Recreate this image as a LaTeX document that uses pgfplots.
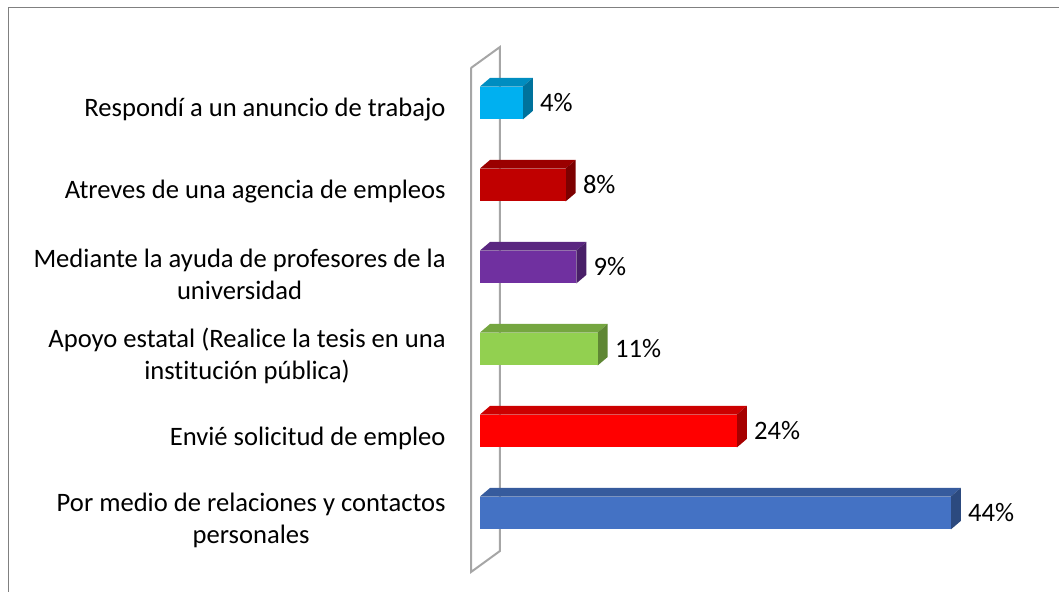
\documentclass[border=0pt]{standalone}
\usepackage{fontspec}
\setmainfont{Carlito}[Ligatures=NoCommon]
\usepackage{pgfplots}
\pgfplotsset{compat=1.18}

\definecolor{cCyan}{HTML}{00B0F0}
\definecolor{cDark}{HTML}{C00000}
\definecolor{cPurple}{HTML}{7030A0}
\definecolor{cGreen}{HTML}{92D050}
\definecolor{cRed}{HTML}{FF0000}
\definecolor{cBlue}{HTML}{4472C4}
\definecolor{wall}{HTML}{A6A6A6}

% top and side faces of one 3-D bar: #1 row, #2 value, #3 colour
\newcommand\barfaces[3]{%
  \pgfmathsetmacro\yb{#1-0.201}%
  \pgfmathsetmacro\yt{#1+0.201}%
  \pgfmathsetmacro\ybb{#1-0.201+0.104}%
  \pgfmathsetmacro\ytt{#1+0.201+0.104}%
  \pgfmathsetmacro\xr{#2+0.935}%
  \edef\tmp{%
    \noexpand\addplot[fill=#3!80!black, draw=none] coordinates {(0,\yt) (#2,\yt) (\xr,\ytt) (0.935,\ytt)};
    \noexpand\addplot[fill=#3!65!black, draw=none] coordinates {(#2,\yb) (#2,\yt) (\xr,\ytt) (\xr,\ybb)};
  }\tmp}

\begin{document}
\begin{tikzpicture}
\draw[gray, line width=0.5pt] (4pt,-20pt) rectangle (560pt,292pt);
\begin{axis}[
  at={(226pt,0pt)}, anchor=south west, scale only axis,
  width=303.5pt, height=296pt,
  xmin=-2.6168, xmax=54.1121, ymin=-0.9634, ymax=6.2561,
  axis line style={draw=none}, tick style={draw=none},
  xtick=\empty, ytick={0,...,5},
  yticklabels={Por medio de relaciones y contactos\\personales,
    Envié solicitud de empleo,
    Apoyo estatal (Realice la tesis en una\\institución pública),
    Mediante la ayuda de profesores de la\\universidad,
    Atreves de una agencia de empleos,
    Respondí a un anuncio de trabajo},
  yticklabel style={align=center, anchor=east, inner sep=0pt, xshift=-3pt,
    yshift=-3.5pt, font=\fontsize{13.3}{16}\selectfont},
  clip=false,
  /pgf/number format/assume math mode=true,
  front/.style={xbar, bar width=0.402, bar shift=0pt, draw=none, fill=#1,
    point meta=x,
    nodes near coords={\pgfmathprintnumber{\pgfplotspointmeta}\%},
    every node near coord/.append style={anchor=west, inner sep=0pt,
      xshift=8.5pt, font=\fontsize{13.3}{15}\selectfont, text=black}},
]
% back wall
\addplot[draw=wall, line width=1pt] coordinates
  {(-0.841,5.427) (1.869,5.683) (1.869,-0.463) (-0.841,-0.720) (-0.841,5.427)};

\barfaces{0}{44}{cBlue}
\addplot[front=cBlue] coordinates {(44,0)};
\barfaces{1}{24}{cRed}
\addplot[front=cRed] coordinates {(24,1)};
\barfaces{2}{11}{cGreen}
\addplot[front=cGreen] coordinates {(11,2)};
\barfaces{3}{9}{cPurple}
\addplot[front=cPurple] coordinates {(9,3)};
\barfaces{4}{8}{cDark}
\addplot[front=cDark] coordinates {(8,4)};
\barfaces{5}{4}{cCyan}
\addplot[front=cCyan] coordinates {(4,5)};
\end{axis}
\pgfresetboundingbox
\path[use as bounding box] (0,0) rectangle (529.5pt,296pt);
\end{tikzpicture}
\end{document}
